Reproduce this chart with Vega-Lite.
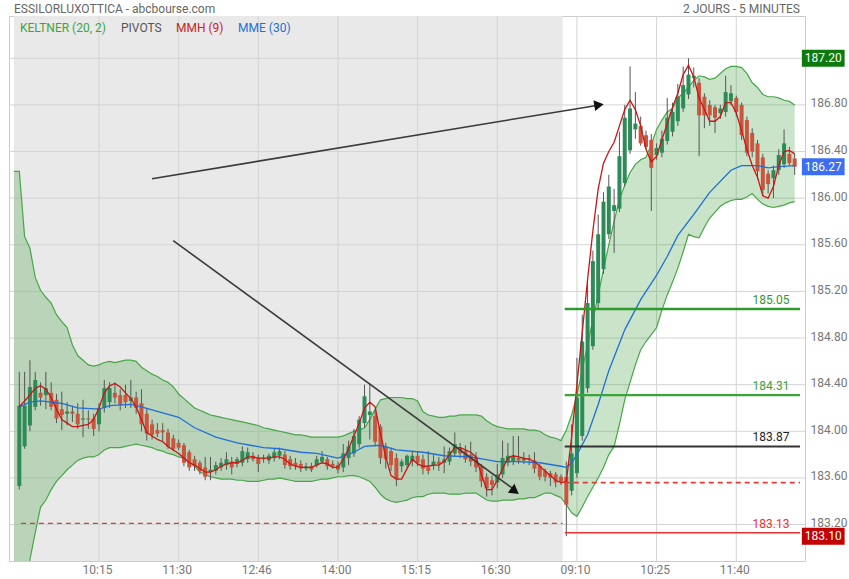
{
"$schema":"https://vega.github.io/schema/vega-lite/v6.json",
"width":849,"height":579,"autosize":{"type":"fit","contains":"padding"},
"padding":{"left":8,"top":2,"right":1,"bottom":4},
"background":"white",
"config":{"font":"Roboto","view":{"stroke":"#cccccc","strokeWidth":1},"axis":{"labelFont":"Roboto","labelFontSize":12,"labelColor":"#777777","grid":false,"ticks":false,"domain":false}},
"resolve":{"scale":{"color":"independent"}},
"datasets":{
"hgrid":[{"p":183.2},{"p":183.6},{"p":184.0},{"p":184.4},{"p":184.8},{"p":185.2},{"p":185.6},{"p":186.0},{"p":186.4},{"p":186.8},{"p":187.2}],
"vgrid":[{"i":15},{"i":30},{"i":45},{"i":60},{"i":75},{"i":90},{"i":105},{"i":120},{"i":135}],
"candles":[
{"i":0,"o":183.53,"h":184.51,"l":183.5,"c":184.22},{"i":1,"o":183.87,"h":184.51,"l":183.85,"c":184.22},{"i":2,"o":184.05,"h":184.61,"l":184.0,"c":184.38},{"i":3,"o":184.21,"h":184.51,"l":184.18,"c":184.44},{"i":4,"o":184.33,"h":184.42,"l":184.22,"c":184.29},{"i":5,"o":184.31,"h":184.51,"l":184.19,"c":184.37},{"i":6,"o":184.33,"h":184.42,"l":184.18,"c":184.21},{"i":7,"o":184.27,"h":184.32,"l":184.07,"c":184.11},{"i":8,"o":184.19,"h":184.34,"l":184.01,"c":184.14},{"i":9,"o":184.15,"h":184.25,"l":184.05,"c":184.17},
{"i":10,"o":184.17,"h":184.22,"l":184.08,"c":184.15},{"i":11,"o":184.15,"h":184.24,"l":184.02,"c":184.06},{"i":12,"o":184.1,"h":184.27,"l":183.95,"c":184.11},{"i":13,"o":184.11,"h":184.18,"l":184.02,"c":184.1},{"i":14,"o":184.11,"h":184.15,"l":183.96,"c":184.02},{"i":15,"o":184.06,"h":184.24,"l":184.0,"c":184.2},{"i":16,"o":184.2,"h":184.44,"l":184.16,"c":184.37},{"i":17,"o":184.25,"h":184.42,"l":184.2,"c":184.37},{"i":18,"o":184.33,"h":184.42,"l":184.24,"c":184.29},{"i":19,"o":184.31,"h":184.36,"l":184.18,"c":184.23},
{"i":20,"o":184.31,"h":184.4,"l":184.2,"c":184.25},{"i":21,"o":184.26,"h":184.44,"l":184.2,"c":184.29},{"i":22,"o":184.29,"h":184.34,"l":184.15,"c":184.2},{"i":23,"o":184.24,"h":184.36,"l":184.0,"c":184.06},{"i":24,"o":184.15,"h":184.2,"l":183.92,"c":183.98},{"i":25,"o":184.06,"h":184.1,"l":183.93,"c":183.97},{"i":26,"o":184.01,"h":184.07,"l":183.95,"c":183.98},{"i":27,"o":184.01,"h":184.07,"l":183.91,"c":183.99},{"i":28,"o":183.99,"h":184.02,"l":183.85,"c":183.87},{"i":29,"o":183.94,"h":183.97,"l":183.83,"c":183.85},
{"i":30,"o":183.9,"h":183.93,"l":183.84,"c":183.86},{"i":31,"o":183.88,"h":183.9,"l":183.7,"c":183.73},{"i":32,"o":183.82,"h":183.84,"l":183.66,"c":183.69},{"i":33,"o":183.76,"h":183.79,"l":183.66,"c":183.7},{"i":34,"o":183.73,"h":183.75,"l":183.63,"c":183.66},{"i":35,"o":183.69,"h":183.78,"l":183.58,"c":183.61},{"i":36,"o":183.65,"h":183.78,"l":183.58,"c":183.67},{"i":37,"o":183.66,"h":183.74,"l":183.63,"c":183.71},{"i":38,"o":183.69,"h":183.77,"l":183.66,"c":183.73},{"i":39,"o":183.71,"h":183.82,"l":183.67,"c":183.76},
{"i":40,"o":183.74,"h":183.78,"l":183.63,"c":183.69},{"i":41,"o":183.72,"h":183.78,"l":183.69,"c":183.76},{"i":42,"o":183.73,"h":183.87,"l":183.7,"c":183.83},{"i":43,"o":183.76,"h":183.86,"l":183.73,"c":183.82},{"i":44,"o":183.79,"h":183.82,"l":183.74,"c":183.76},{"i":45,"o":183.77,"h":183.8,"l":183.65,"c":183.72},{"i":46,"o":183.76,"h":183.8,"l":183.73,"c":183.77},{"i":47,"o":183.75,"h":183.81,"l":183.72,"c":183.79},{"i":48,"o":183.77,"h":183.85,"l":183.74,"c":183.82},{"i":49,"o":183.79,"h":183.86,"l":183.76,"c":183.83},
{"i":50,"o":183.8,"h":183.83,"l":183.68,"c":183.71},{"i":51,"o":183.76,"h":183.79,"l":183.67,"c":183.7},{"i":52,"o":183.73,"h":183.77,"l":183.67,"c":183.7},{"i":53,"o":183.72,"h":183.75,"l":183.65,"c":183.68},{"i":54,"o":183.68,"h":183.73,"l":183.66,"c":183.7},{"i":55,"o":183.7,"h":183.73,"l":183.65,"c":183.67},{"i":56,"o":183.71,"h":183.79,"l":183.69,"c":183.76},{"i":57,"o":183.74,"h":183.83,"l":183.72,"c":183.78},{"i":58,"o":183.76,"h":183.78,"l":183.67,"c":183.7},{"i":59,"o":183.72,"h":183.75,"l":183.68,"c":183.7},
{"i":60,"o":183.71,"h":183.74,"l":183.64,"c":183.67},{"i":61,"o":183.69,"h":183.89,"l":183.65,"c":183.81},{"i":62,"o":183.77,"h":183.92,"l":183.71,"c":183.87},{"i":63,"o":183.81,"h":184.02,"l":183.78,"c":183.96},{"i":64,"o":183.89,"h":184.13,"l":183.86,"c":184.1},{"i":65,"o":184.07,"h":184.4,"l":184.03,"c":184.3},{"i":66,"o":184.14,"h":184.41,"l":183.93,"c":184.17},{"i":67,"o":184.13,"h":184.18,"l":183.87,"c":183.91},{"i":68,"o":184.04,"h":184.06,"l":183.72,"c":183.77},{"i":69,"o":183.87,"h":183.9,"l":183.68,"c":183.76},
{"i":70,"o":183.83,"h":183.86,"l":183.66,"c":183.71},{"i":71,"o":183.77,"h":183.81,"l":183.53,"c":183.59},{"i":72,"o":183.7,"h":183.76,"l":183.65,"c":183.74},{"i":73,"o":183.71,"h":183.8,"l":183.69,"c":183.79},{"i":74,"o":183.74,"h":183.83,"l":183.7,"c":183.79},{"i":75,"o":183.79,"h":183.82,"l":183.7,"c":183.73},{"i":76,"o":183.76,"h":183.8,"l":183.63,"c":183.68},{"i":77,"o":183.69,"h":183.83,"l":183.63,"c":183.66},{"i":78,"o":183.71,"h":183.8,"l":183.67,"c":183.74},{"i":79,"o":183.74,"h":183.78,"l":183.66,"c":183.72},
{"i":80,"o":183.73,"h":183.87,"l":183.64,"c":183.76},{"i":81,"o":183.74,"h":183.86,"l":183.71,"c":183.83},{"i":82,"o":183.81,"h":183.99,"l":183.78,"c":183.89},{"i":83,"o":183.86,"h":183.9,"l":183.77,"c":183.81},{"i":84,"o":183.83,"h":183.88,"l":183.73,"c":183.76},{"i":85,"o":183.8,"h":183.91,"l":183.7,"c":183.74},{"i":86,"o":183.78,"h":183.82,"l":183.65,"c":183.69},{"i":87,"o":183.7,"h":183.72,"l":183.52,"c":183.57},{"i":88,"o":183.61,"h":183.64,"l":183.44,"c":183.51},{"i":89,"o":183.58,"h":183.62,"l":183.45,"c":183.54},
{"i":90,"o":183.56,"h":183.72,"l":183.51,"c":183.63},{"i":91,"o":183.63,"h":183.92,"l":183.6,"c":183.77},{"i":92,"o":183.73,"h":183.9,"l":183.7,"c":183.79},{"i":93,"o":183.74,"h":183.96,"l":183.71,"c":183.79},{"i":94,"o":183.77,"h":183.96,"l":183.72,"c":183.75},{"i":95,"o":183.75,"h":183.82,"l":183.72,"c":183.77},{"i":96,"o":183.77,"h":183.8,"l":183.71,"c":183.76},{"i":97,"o":183.75,"h":183.82,"l":183.64,"c":183.68},{"i":98,"o":183.7,"h":183.72,"l":183.58,"c":183.61},{"i":99,"o":183.66,"h":183.68,"l":183.57,"c":183.61},
{"i":100,"o":183.64,"h":183.66,"l":183.53,"c":183.6},{"i":101,"o":183.63,"h":183.65,"l":183.52,"c":183.56},{"i":102,"o":183.61,"h":183.63,"l":183.54,"c":183.57},
{"i":103,"o":183.61,"h":183.74,"l":183.1,"c":183.37},{"i":104,"o":183.49,"h":184.06,"l":183.45,"c":183.81},{"i":105,"o":183.64,"h":184.63,"l":183.6,"c":184.29},{"i":106,"o":183.96,"h":185.0,"l":183.92,"c":184.77},{"i":107,"o":184.37,"h":185.3,"l":184.33,"c":185.1},{"i":108,"o":184.73,"h":185.55,"l":184.7,"c":185.46},{"i":109,"o":185.1,"h":185.86,"l":185.05,"c":185.69},
{"i":110,"o":185.39,"h":186.05,"l":185.35,"c":185.97},{"i":111,"o":185.69,"h":186.2,"l":185.65,"c":186.1},{"i":112,"o":185.89,"h":186.08,"l":185.53,"c":185.94},{"i":113,"o":185.91,"h":186.57,"l":185.88,"c":186.36},{"i":114,"o":186.13,"h":186.8,"l":186.1,"c":186.69},{"i":115,"o":186.41,"h":187.13,"l":186.38,"c":186.77},{"i":116,"o":186.59,"h":186.91,"l":186.51,"c":186.64},{"i":117,"o":186.62,"h":186.7,"l":186.45,"c":186.47},{"i":118,"o":186.54,"h":186.58,"l":186.42,"c":186.44},{"i":119,"o":186.5,"h":186.55,"l":185.89,"c":186.26},
{"i":120,"o":186.37,"h":186.47,"l":186.33,"c":186.43},{"i":121,"o":186.39,"h":186.58,"l":186.35,"c":186.51},{"i":122,"o":186.49,"h":186.86,"l":186.46,"c":186.69},{"i":123,"o":186.57,"h":186.82,"l":186.53,"c":186.74},{"i":124,"o":186.66,"h":186.98,"l":186.62,"c":186.87},{"i":125,"o":186.77,"h":187.13,"l":186.74,"c":186.97},{"i":126,"o":186.89,"h":187.2,"l":186.85,"c":187.06},{"i":127,"o":187.03,"h":187.12,"l":186.95,"c":187.05},{"i":128,"o":186.99,"h":187.03,"l":186.36,"c":186.71},{"i":129,"o":186.87,"h":186.9,"l":186.6,"c":186.71},
{"i":130,"o":186.8,"h":186.84,"l":186.62,"c":186.71},{"i":131,"o":186.78,"h":186.8,"l":186.56,"c":186.69},{"i":132,"o":186.73,"h":186.8,"l":186.68,"c":186.77},{"i":133,"o":186.74,"h":187.05,"l":186.7,"c":186.91},{"i":134,"o":186.83,"h":186.97,"l":186.8,"c":186.9},{"i":135,"o":186.86,"h":186.88,"l":186.7,"c":186.74},{"i":136,"o":186.8,"h":186.82,"l":186.5,"c":186.54},{"i":137,"o":186.67,"h":186.7,"l":186.36,"c":186.39},{"i":138,"o":186.56,"h":186.6,"l":186.35,"c":186.4},{"i":139,"o":186.47,"h":186.5,"l":186.16,"c":186.23},
{"i":140,"o":186.35,"h":186.38,"l":186.02,"c":186.07},{"i":141,"o":186.21,"h":186.24,"l":186.04,"c":186.12},{"i":142,"o":186.17,"h":186.28,"l":186.0,"c":186.24},{"i":143,"o":186.24,"h":186.42,"l":186.2,"c":186.37},{"i":144,"o":186.29,"h":186.59,"l":186.26,"c":186.47},{"i":145,"o":186.38,"h":186.44,"l":186.28,"c":186.3},{"i":146,"o":186.34,"h":186.38,"l":186.2,"c":186.27}
],
"band":[
{"i":-1,"u":186.23,"l":181.8},{"i":0,"u":186.23,"l":182.0},{"i":1,"u":185.67,"l":182.45},{"i":2,"u":185.57,"l":182.9},{"i":3,"u":185.32,"l":183.13},{"i":4,"u":185.21,"l":183.35},{"i":5,"u":185.15,"l":183.41},{"i":6,"u":185.1,"l":183.5},{"i":7,"u":185.0,"l":183.57},{"i":8,"u":184.94,"l":183.62},{"i":9,"u":184.89,"l":183.67},
{"i":10,"u":184.74,"l":183.71},{"i":11,"u":184.65,"l":183.75},{"i":12,"u":184.61,"l":183.77},{"i":13,"u":184.57,"l":183.78},{"i":14,"u":184.56,"l":183.78},{"i":15,"u":184.57,"l":183.8},{"i":16,"u":184.59,"l":183.84},{"i":17,"u":184.6,"l":183.86},{"i":18,"u":184.59,"l":183.86},{"i":19,"u":184.6,"l":183.86},
{"i":20,"u":184.61,"l":183.87},{"i":21,"u":184.61,"l":183.88},{"i":22,"u":184.6,"l":183.89},{"i":23,"u":184.55,"l":183.88},{"i":24,"u":184.52,"l":183.87},{"i":25,"u":184.49,"l":183.86},{"i":26,"u":184.47,"l":183.84},{"i":27,"u":184.44,"l":183.83},{"i":28,"u":184.42,"l":183.81},{"i":29,"u":184.38,"l":183.8},
{"i":30,"u":184.32,"l":183.78},{"i":31,"u":184.28,"l":183.77},{"i":32,"u":184.24,"l":183.74},{"i":33,"u":184.2,"l":183.7},{"i":34,"u":184.18,"l":183.65},{"i":35,"u":184.16,"l":183.63},{"i":36,"u":184.14,"l":183.61},{"i":37,"u":184.13,"l":183.6},{"i":38,"u":184.12,"l":183.59},{"i":39,"u":184.11,"l":183.59},
{"i":40,"u":184.1,"l":183.59},{"i":41,"u":184.09,"l":183.58},{"i":42,"u":184.08,"l":183.58},{"i":43,"u":184.07,"l":183.57},{"i":44,"u":184.06,"l":183.57},{"i":45,"u":184.05,"l":183.57},{"i":46,"u":184.03,"l":183.58},{"i":47,"u":184.02,"l":183.59},{"i":48,"u":184.01,"l":183.59},{"i":49,"u":184.0,"l":183.6},
{"i":50,"u":183.99,"l":183.59},{"i":51,"u":183.98,"l":183.58},{"i":52,"u":183.97,"l":183.57},{"i":53,"u":183.97,"l":183.57},{"i":54,"u":183.96,"l":183.57},{"i":55,"u":183.95,"l":183.57},{"i":56,"u":183.95,"l":183.58},{"i":57,"u":183.95,"l":183.59},{"i":58,"u":183.95,"l":183.59},{"i":59,"u":183.95,"l":183.6},
{"i":60,"u":183.95,"l":183.61},{"i":61,"u":183.96,"l":183.61},{"i":62,"u":183.98,"l":183.62},{"i":63,"u":184.0,"l":183.62},{"i":64,"u":184.01,"l":183.61},{"i":65,"u":184.03,"l":183.59},{"i":66,"u":184.1,"l":183.57},{"i":67,"u":184.19,"l":183.52},{"i":68,"u":184.27,"l":183.46},{"i":69,"u":184.28,"l":183.42},
{"i":70,"u":184.29,"l":183.4},{"i":71,"u":184.29,"l":183.39},{"i":72,"u":184.29,"l":183.4},{"i":73,"u":184.28,"l":183.41},{"i":74,"u":184.28,"l":183.43},{"i":75,"u":184.26,"l":183.44},{"i":76,"u":184.17,"l":183.44},{"i":77,"u":184.14,"l":183.46},{"i":78,"u":184.13,"l":183.47},{"i":79,"u":184.12,"l":183.47},
{"i":80,"u":184.12,"l":183.47},{"i":81,"u":184.13,"l":183.46},{"i":82,"u":184.13,"l":183.46},{"i":83,"u":184.14,"l":183.46},{"i":84,"u":184.14,"l":183.47},{"i":85,"u":184.14,"l":183.47},{"i":86,"u":184.14,"l":183.47},{"i":87,"u":184.13,"l":183.44},{"i":88,"u":184.09,"l":183.41},{"i":89,"u":184.06,"l":183.4},
{"i":90,"u":184.04,"l":183.4},{"i":91,"u":184.03,"l":183.41},{"i":92,"u":184.02,"l":183.41},{"i":93,"u":184.02,"l":183.41},{"i":94,"u":184.02,"l":183.42},{"i":95,"u":184.02,"l":183.42},{"i":96,"u":184.01,"l":183.43},{"i":97,"u":184.01,"l":183.43},{"i":98,"u":184.0,"l":183.45},{"i":99,"u":183.97,"l":183.47},
{"i":100,"u":183.95,"l":183.47},{"i":101,"u":183.94,"l":183.45},{"i":102,"u":183.92,"l":183.43},{"i":103,"u":184.01,"l":183.37},{"i":104,"u":184.14,"l":183.3},{"i":105,"u":184.31,"l":183.27},{"i":106,"u":184.53,"l":183.35},{"i":107,"u":184.74,"l":183.44},{"i":108,"u":184.96,"l":183.52},{"i":109,"u":185.17,"l":183.6},
{"i":110,"u":185.39,"l":183.69},{"i":111,"u":185.6,"l":183.8},{"i":112,"u":185.8,"l":183.87},{"i":113,"u":185.99,"l":184.06},{"i":114,"u":186.11,"l":184.27},{"i":115,"u":186.22,"l":184.42},{"i":116,"u":186.29,"l":184.57},{"i":117,"u":186.33,"l":184.7},{"i":118,"u":186.35,"l":184.77},{"i":119,"u":186.46,"l":184.83},
{"i":120,"u":186.59,"l":184.89},{"i":121,"u":186.67,"l":185.04},{"i":122,"u":186.74,"l":185.17},{"i":123,"u":186.77,"l":185.28},{"i":124,"u":186.86,"l":185.4},{"i":125,"u":186.9,"l":185.54},{"i":126,"u":186.95,"l":185.69},{"i":127,"u":187.01,"l":185.67},{"i":128,"u":187.05,"l":185.66},{"i":129,"u":187.04,"l":185.75},
{"i":130,"u":187.02,"l":185.83},{"i":131,"u":187.03,"l":185.88},{"i":132,"u":187.07,"l":185.93},{"i":133,"u":187.11,"l":185.96},{"i":134,"u":187.13,"l":185.98},{"i":135,"u":187.13,"l":185.99},{"i":136,"u":187.12,"l":185.99},{"i":137,"u":187.07,"l":186.01},{"i":138,"u":186.99,"l":186.04},{"i":139,"u":186.95,"l":185.99},
{"i":140,"u":186.89,"l":185.95},{"i":141,"u":186.87,"l":185.93},{"i":142,"u":186.87,"l":185.92},{"i":143,"u":186.86,"l":185.93},{"i":144,"u":186.84,"l":185.94},{"i":145,"u":186.83,"l":185.96},{"i":146,"u":186.8,"l":185.97}
],
"mmh":[
{"i":0,"v":184.21},{"i":1,"v":184.26},{"i":2,"v":184.31},{"i":3,"v":184.37},{"i":4,"v":184.39},{"i":5,"v":184.36},{"i":6,"v":184.29},{"i":7,"v":184.19},{"i":8,"v":184.1},{"i":9,"v":184.07},{"i":10,"v":184.04},{"i":11,"v":184.04},{"i":12,"v":184.05},{"i":13,"v":184.06},{"i":14,"v":184.1},{"i":15,"v":184.2},{"i":16,"v":184.33},{"i":17,"v":184.39},{"i":18,"v":184.41},{"i":19,"v":184.38},
{"i":20,"v":184.33},{"i":21,"v":184.28},{"i":22,"v":184.21},{"i":23,"v":184.1},{"i":24,"v":183.99},{"i":25,"v":183.96},{"i":26,"v":183.93},{"i":27,"v":183.91},{"i":28,"v":183.87},{"i":29,"v":183.84},{"i":30,"v":183.81},{"i":31,"v":183.77},{"i":32,"v":183.73},{"i":33,"v":183.71},{"i":34,"v":183.68},{"i":35,"v":183.65},{"i":36,"v":183.65},{"i":37,"v":183.67},{"i":38,"v":183.7},{"i":39,"v":183.72},
{"i":40,"v":183.73},{"i":41,"v":183.73},{"i":42,"v":183.75},{"i":43,"v":183.78},{"i":44,"v":183.78},{"i":45,"v":183.77},{"i":46,"v":183.77},{"i":47,"v":183.77},{"i":48,"v":183.78},{"i":49,"v":183.78},{"i":50,"v":183.76},{"i":51,"v":183.72},{"i":52,"v":183.7},{"i":53,"v":183.69},{"i":54,"v":183.69},{"i":55,"v":183.69},{"i":56,"v":183.71},{"i":57,"v":183.73},{"i":58,"v":183.72},{"i":59,"v":183.69},
{"i":60,"v":183.69},{"i":61,"v":183.76},{"i":62,"v":183.85},{"i":63,"v":183.96},{"i":64,"v":184.07},{"i":65,"v":184.2},{"i":66,"v":184.25},{"i":67,"v":184.21},{"i":68,"v":183.98},{"i":69,"v":183.78},{"i":70,"v":183.62},{"i":71,"v":183.59},{"i":72,"v":183.59},{"i":73,"v":183.68},{"i":74,"v":183.76},{"i":75,"v":183.72},{"i":76,"v":183.7},{"i":77,"v":183.7},{"i":78,"v":183.71},{"i":79,"v":183.71},
{"i":80,"v":183.74},{"i":81,"v":183.8},{"i":82,"v":183.86},{"i":83,"v":183.86},{"i":84,"v":183.84},{"i":85,"v":183.82},{"i":86,"v":183.78},{"i":87,"v":183.63},{"i":88,"v":183.5},{"i":89,"v":183.5},{"i":90,"v":183.58},{"i":91,"v":183.68},{"i":92,"v":183.77},{"i":93,"v":183.79},{"i":94,"v":183.78},{"i":95,"v":183.77},{"i":96,"v":183.76},{"i":97,"v":183.74},{"i":98,"v":183.7},{"i":99,"v":183.66},
{"i":100,"v":183.62},{"i":101,"v":183.58},{"i":102,"v":183.56},{"i":103,"v":183.57},{"i":104,"v":183.95},{"i":105,"v":184.4},{"i":106,"v":184.85},{"i":107,"v":185.3},{"i":108,"v":185.72},{"i":109,"v":186.08},{"i":110,"v":186.3},{"i":111,"v":186.4},{"i":112,"v":186.48},{"i":113,"v":186.62},{"i":114,"v":186.76},{"i":115,"v":186.84},{"i":116,"v":186.76},{"i":117,"v":186.62},{"i":118,"v":186.42},{"i":119,"v":186.31},
{"i":120,"v":186.36},{"i":121,"v":186.5},{"i":122,"v":186.64},{"i":123,"v":186.78},{"i":124,"v":186.9},{"i":125,"v":187.06},{"i":126,"v":187.14},{"i":127,"v":187.04},{"i":128,"v":186.86},{"i":129,"v":186.76},{"i":130,"v":186.66},{"i":131,"v":186.66},{"i":132,"v":186.7},{"i":133,"v":186.82},{"i":134,"v":186.82},{"i":135,"v":186.73},{"i":136,"v":186.58},{"i":137,"v":186.42},{"i":138,"v":186.28},{"i":139,"v":186.18},
{"i":140,"v":186.02},{"i":141,"v":186.0},{"i":142,"v":186.1},{"i":143,"v":186.28},{"i":144,"v":186.4},{"i":145,"v":186.41},{"i":146,"v":186.38}
],
"mme":[
{"i":0,"v":184.21},{"i":2,"v":184.25},{"i":4,"v":184.26},{"i":8,"v":184.24},{"i":11,"v":184.2},{"i":15,"v":184.19},{"i":17,"v":184.22},{"i":21,"v":184.23},{"i":23,"v":184.21},{"i":26,"v":184.17},{"i":30,"v":184.12},{"i":33,"v":184.03},{"i":37,"v":183.95},{"i":41,"v":183.9},{"i":46,"v":183.86},{"i":49,"v":183.85},{"i":53,"v":183.82},{"i":56,"v":183.81},{"i":60,"v":183.77},{"i":63,"v":183.82},{"i":65,"v":183.87},{"i":68,"v":183.88},{"i":71,"v":183.84},{"i":76,"v":183.82},{"i":80,"v":183.79},{"i":85,"v":183.78},{"i":90,"v":183.74},{"i":94,"v":183.74},{"i":98,"v":183.73},{"i":102,"v":183.7},
{"i":103,"v":183.69},{"i":104,"v":183.73},{"i":105,"v":183.8},{"i":107,"v":183.97},{"i":109,"v":184.23},{"i":111,"v":184.52},{"i":114,"v":184.87},{"i":117,"v":185.13},{"i":120,"v":185.34},{"i":122,"v":185.5},{"i":124,"v":185.68},{"i":127,"v":185.86},{"i":130,"v":186.05},{"i":134,"v":186.24},{"i":136,"v":186.28},{"i":139,"v":186.28},{"i":141,"v":186.26},{"i":143,"v":186.27},{"i":146,"v":186.28}
],
"pivots":[
{"name":"r1","p":185.05,"label":"185.05","from":102.7,"to":147},
{"name":"pp","p":184.31,"label":"184.31","from":102.7,"to":147},
{"name":"s1","p":183.87,"label":"183.87","from":102.7,"to":147},
{"name":"cl","p":183.56,"label":"","from":102.7,"to":147},
{"name":"s2","p":183.13,"label":"183.13","from":102.7,"to":147},
{"name":"cl0","p":183.21,"label":"","from":0.3,"to":102.3}
],
"arrows":[{"i":24.99,"p":186.167,"i2":109.3,"p2":186.8},{"i":28.98,"p":185.636,"i2":93.5,"p2":183.49}],
"heads":[{"i":109.15,"p":186.8,"a":350.6},{"i":93.33,"p":183.487,"a":36.3}],
"boxes":[{"kind":"high","p":187.2,"label":"187.20"},{"kind":"last","p":186.27,"label":"186.27"},{"kind":"low","p":183.1,"label":"183.10"}]
},
"layer":[
{"data":{"values":[{}]},"mark":{"type":"rect","color":"#e9e9e9"},
 "encoding":{"x":{"datum":-1,"type":"quantitative","scale":{"domain":[-1,147],"nice":false,"zero":false}},"x2":{"datum":102.3}}},
{"data":{"name":"hgrid"},"mark":{"type":"rule","color":"#d4d4d4","strokeWidth":1},
 "encoding":{"y":{"field":"p","type":"quantitative","scale":{"domain":[182.93,187.52],"nice":false,"zero":false},
  "axis":{"orient":"right","title":null,"values":[183.2,183.6,184.0,184.4,184.8,185.2,185.6,186.0,186.4,186.8,187.2],"labelExpr":"datum.value > 187 ? '' : format(datum.value, '.2f')","labelPadding":5,"labelOffset":-2,"grid":false,"ticks":false,"domain":false}}}},
{"data":{"name":"vgrid"},"mark":{"type":"rule","color":"#d4d4d4","strokeWidth":1},
 "encoding":{"x":{"field":"i","type":"quantitative","scale":{"domain":[-1,147],"nice":false,"zero":false},
  "axis":{"orient":"bottom","title":null,"values":[15,30,45,60,75,90,105,120,135],"labelFlush":false,"labelPadding":3,"labelOffset":-2,"grid":false,"ticks":false,"domain":false,
  "labelExpr":"datum.value==15?'10:15':datum.value==30?'11:30':datum.value==45?'12:46':datum.value==60?'14:00':datum.value==75?'15:15':datum.value==90?'16:30':datum.value==105?'09:10':datum.value==120?'10:25':'11:40'"}}}},
{"data":{"name":"band"},"mark":{"type":"area","color":"#3a9a3a","opacity":0.27,"clip":true},
 "encoding":{"x":{"field":"i","type":"quantitative"},"y":{"field":"u","type":"quantitative","scale":{"domain":[182.93,187.52],"nice":false,"zero":false}},"y2":{"field":"l"}}},
{"data":{"name":"band"},"mark":{"type":"line","color":"#47a647","strokeWidth":1.2,"clip":true},
 "encoding":{"x":{"field":"i","type":"quantitative"},"y":{"field":"u","type":"quantitative"}}},
{"data":{"name":"band"},"mark":{"type":"line","color":"#47a647","strokeWidth":1.2,"clip":true},
 "encoding":{"x":{"field":"i","type":"quantitative"},"y":{"field":"l","type":"quantitative"}}},
{"data":{"name":"candles"},"mark":{"type":"rule","color":"#555555","strokeWidth":1},
 "encoding":{"x":{"field":"i","type":"quantitative"},"y":{"field":"l","type":"quantitative"},"y2":{"field":"h"}}},
{"data":{"name":"candles"},"mark":{"type":"bar","size":4},
 "encoding":{"x":{"field":"i","type":"quantitative"},"y":{"field":"o","type":"quantitative"},"y2":{"field":"c"},
  "color":{"condition":{"test":"datum.c >= datum.o","value":"#2e8b57"},"value":"#c8553d"}}},
{"data":{"name":"mme"},"mark":{"type":"line","color":"#1f6fd6","strokeWidth":1.3},
 "encoding":{"x":{"field":"i","type":"quantitative"},"y":{"field":"v","type":"quantitative"}}},
{"data":{"name":"mmh"},"mark":{"type":"line","color":"#cc1414","strokeWidth":1.3},
 "encoding":{"x":{"field":"i","type":"quantitative"},"y":{"field":"v","type":"quantitative"}}},
{"data":{"name":"pivots"},"mark":{"type":"rule"},
 "encoding":{"x":{"field":"from","type":"quantitative"},"x2":{"field":"to"},"y":{"field":"p","type":"quantitative"},
  "color":{"field":"name","type":"nominal","scale":{"domain":["r1","pp","s1","cl","s2","cl0"],"range":["#2e9a2e","#3aa33a","#333333","#e53935","#f03030","#e53935"]},"legend":null},
  "strokeWidth":{"field":"name","type":"nominal","scale":{"domain":["r1","pp","s1","cl","s2","cl0"],"range":[2.5,1.2,1,1,1,1]},"legend":null},
  "strokeDash":{"field":"name","type":"nominal","scale":{"domain":["r1","pp","s1","cl","s2","cl0"],"range":[[1,0],[1,0],[1,0],[5,4],[1,0],[5,4]]},"legend":null}}},
{"data":{"name":"pivots"},"transform":[{"filter":"datum.label != ''"}],"mark":{"type":"text","align":"right","baseline":"bottom","dy":-2,"fontSize":12},
 "encoding":{"x":{"datum":145,"type":"quantitative"},"y":{"field":"p","type":"quantitative"},"text":{"field":"label"},
  "color":{"field":"name","type":"nominal","scale":{"domain":["r1","pp","s1","s2"],"range":["#2e9a2e","#3aa33a","#222222","#f03030"]},"legend":null}}},
{"data":{"name":"arrows"},"mark":{"type":"rule","color":"#3a3a3a","strokeWidth":1.6},
 "encoding":{"x":{"field":"i","type":"quantitative"},"y":{"field":"p","type":"quantitative"},"x2":{"field":"i2"},"y2":{"field":"p2"}}},
{"data":{"name":"heads"},"mark":{"type":"point","shape":"triangle-right","filled":true,"size":120,"color":"#111111","opacity":1},
 "encoding":{"x":{"field":"i","type":"quantitative"},"y":{"field":"p","type":"quantitative"},"angle":{"field":"a","type":"quantitative","scale":null}}},
{"data":{"values":[{"t":"KELTNER (20, 2)"}]},"mark":{"type":"text","align":"left","baseline":"middle","fontSize":12,"color":"#3aa63a"},
 "encoding":{"x":{"datum":0.13,"type":"quantitative"},"y":{"datum":187.46,"type":"quantitative"},"text":{"field":"t"}}},
{"data":{"values":[{"t":"PIVOTS"}]},"mark":{"type":"text","align":"left","baseline":"middle","fontSize":12,"color":"#555555"},
 "encoding":{"x":{"datum":19.15,"type":"quantitative"},"y":{"datum":187.46,"type":"quantitative"},"text":{"field":"t"}}},
{"data":{"values":[{"t":"MMH (9)"}]},"mark":{"type":"text","align":"left","baseline":"middle","fontSize":12,"color":"#cc2222"},
 "encoding":{"x":{"datum":29.5,"type":"quantitative"},"y":{"datum":187.46,"type":"quantitative"},"text":{"field":"t"}}},
{"data":{"values":[{"t":"MME (30)"}]},"mark":{"type":"text","align":"left","baseline":"middle","fontSize":12,"color":"#1f6fd6"},
 "encoding":{"x":{"datum":41.2,"type":"quantitative"},"y":{"datum":187.46,"type":"quantitative"},"text":{"field":"t"}}},
{"data":{"values":[{"t":"ESSILORLUXOTTICA - abcbourse.com"}]},"mark":{"type":"text","align":"left","baseline":"middle","fontSize":12,"color":"#666666"},
 "encoding":{"x":{"datum":-1,"type":"quantitative"},"y":{"datum":187.623,"type":"quantitative"},"text":{"field":"t"}}},
{"data":{"values":[{"t":"2 JOURS - 5 MINUTES"}]},"mark":{"type":"text","align":"right","baseline":"middle","fontSize":12,"color":"#666666"},
 "encoding":{"x":{"datum":147,"type":"quantitative"},"y":{"datum":187.623,"type":"quantitative"},"text":{"field":"t"}}},
{"data":{"name":"boxes"},"mark":{"type":"bar","size":17},
 "encoding":{"x":{"datum":147.35,"type":"quantitative"},"x2":{"datum":155.4},"y":{"field":"p","type":"quantitative"},
  "color":{"field":"kind","type":"nominal","scale":{"domain":["high","last","low"],"range":["#0c7a0c","#3b6ef3","#c40000"]},"legend":null}}},
{"data":{"name":"boxes"},"mark":{"type":"text","align":"left","baseline":"middle","fontSize":12,"color":"white"},
 "encoding":{"x":{"datum":147.9,"type":"quantitative"},"y":{"field":"p","type":"quantitative"},"text":{"field":"label"}}}
]
}
